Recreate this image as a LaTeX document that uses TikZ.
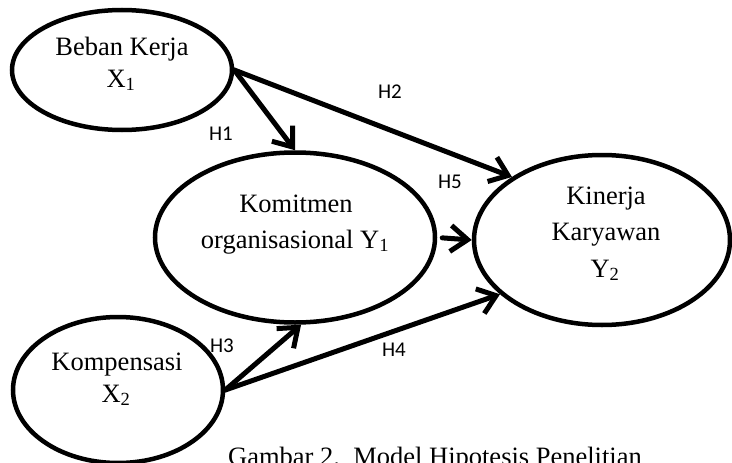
\documentclass[tikz,border=0pt]{standalone}
\usepackage{fontspec}
\setmainfont{Liberation Serif}
\newfontfamily\hfont{Carlito}
\usetikzlibrary{shapes.geometric,arrows.meta}
\begin{document}
\begin{tikzpicture}[x=1pt,y=-1pt,
  var/.style={draw,ellipse,line width=4.5pt,inner sep=0pt},
  txt/.style={anchor=base,inner sep=0pt,font=\fontsize{26.5}{30}\selectfont},
  hlab/.style={inner sep=0pt,font=\hfont\fontsize{21}{24}\selectfont},
  arr/.style={line width=5pt,-{Straight Barb[length=17pt,width=26pt]},line cap=round,line join=round}]
\useasboundingbox (0,0) rectangle (732,463);
% ellipses
\node[var,minimum width=220pt,minimum height=120pt] (bk) at (122,70) {};
\node[var,minimum width=280pt,minimum height=170pt] (kom) at (295,237.5) {};
\node[var,minimum width=256pt,minimum height=170pt] (kin) at (602,240) {};
\node[var,minimum width=210pt,minimum height=146pt] (komp) at (118,390) {};
% texts
\node[txt] (t1a) at (122,55) {Beban Kerja};
\node[txt] (t1b) at (121,87) {X\textsubscript{1}};
\node[txt] (t2a) at (296,212) {Komitmen};
\node[txt] (t2b) at (295,248) {organisasional Y\textsubscript{1}};
\node[txt] (t3a) at (606,204) {Kinerja};
\node[txt] (t3b) at (606,240) {Karyawan};
\node[txt] (t3c) at (605,277) {Y\textsubscript{2}};
\node[txt] (t4a) at (117,370) {Kompensasi};
\node[txt] (t4b) at (116,402) {X\textsubscript{2}};
% arrows
\draw[arr] (bk.east) -- (kom.north);
\draw[arr] (bk.east) -- (kin.145);
\draw[arr,shorten <=5pt] (kom.east) -- (kin.west);
\draw[arr] (komp.east) -- (kom.-86);
\draw[arr] (komp.east) -- (kin.208);
% labels
\node[hlab] (h1) at (221,134) {H1};
\node[hlab] (h2) at (390,92) {H2};
\node[hlab] (h5) at (450,182) {H5};
\node[hlab] (h3) at (222,346) {H3};
\node[hlab] (h4) at (394,350) {H4};
% caption
\node[txt,anchor=base west] (cap) at (228,465) {Gambar 2.\ \ Model Hipotesis Penelitian};
\end{tikzpicture}
\end{document}
